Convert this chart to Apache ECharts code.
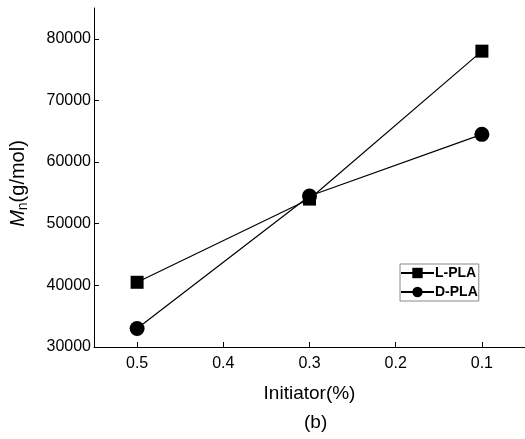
<!DOCTYPE html>
<html><head><meta charset="utf-8">
<script src="https://cdn.jsdelivr.net/npm/echarts@6/dist/echarts.min.js"></script>
<style>html,body{margin:0;padding:0;background:#fff}#c{width:525px;height:439px}</style>
</head><body><div id="c"></div>
<script>
var initiator = [0.5, 0.3, 0.1];
var lPLA = [40500, 54000, 78000];
var dPLA = [33000, 54500, 64500];
var seriesNames = ['L-PLA', 'D-PLA'];
var xTitle = 'Initiator(%)';
var caption = '(b)';

var chart = echarts.init(document.getElementById('c'), null, {renderer: 'canvas'});
var font = 'Liberation Sans, Arial, sans-serif';
function pairs(ys){ return initiator.map(function(x,i){ return [x, ys[i]]; }); }
chart.setOption({
  animation: false,
  backgroundColor: '#fff',
  grid: {left: 94, right: 0, top: 8, bottom: 92, containLabel: false, outerBoundsMode: 'none'},
  legend: {
    left: 400, top: 264, orient: 'vertical', itemGap: 5, itemWidth: 33, itemHeight: 13,
    padding: [2, 1, 2, 0], borderColor: '#888', borderWidth: 1,
    textStyle: {fontFamily: font, fontSize: 14, fontWeight: 'bold', color: '#000', padding: [0,0,0,-4]},
    data: seriesNames
  },
  xAxis: {
    type: 'value', inverse: true, min: 0.05, max: 0.55, splitNumber: 5,
    name: xTitle, nameLocation: 'middle', nameGap: 37,
    nameTextStyle: {fontFamily: font, fontSize: 19, color: '#000'},
    axisLine: {lineStyle: {color: '#000', width: 1}},
    axisTick: {inside: true, length: 5, lineStyle: {color: '#000'}},
    axisLabel: {fontFamily: font, fontSize: 16, color: '#000', margin: 9, showMinLabel: false, showMaxLabel: false,
      formatter: function(v){ return v.toFixed(1); }},
    splitLine: {show: false}
  },
  yAxis: {
    type: 'value', min: 30000, max: 85000, interval: 10000,
    name: '{i|M}{s|n}{r|(g/mol)}', nameLocation: 'middle', nameGap: 64, nameRotate: 90,
    nameTextStyle: {fontFamily: font, fontSize: 20, color: '#000', padding: [0, 0, 0, -12],
      rich: {
        i: {fontFamily: font, fontSize: 20, fontStyle: 'italic', color: '#000'},
        s: {fontFamily: font, fontSize: 14, color: '#000', padding: [9, 0, 0, 0]},
        r: {fontFamily: font, fontSize: 20, color: '#000'}
      }},
    axisLine: {lineStyle: {color: '#000', width: 1}},
    axisTick: {inside: true, length: 5, lineStyle: {color: '#000'}},
    axisLabel: {fontFamily: font, fontSize: 16, color: '#000', margin: 3, showMaxLabel: false,
      formatter: function(v){ return String(v); }},
    splitLine: {show: false}
  },
  graphic: [{
    type: 'text', left: 304, top: 413,
    style: {text: caption, font: '19px ' + font, fill: '#000'}
  }],
  series: [
    {name: seriesNames[0], type: 'line', data: pairs(lPLA), symbol: 'rect', symbolSize: 13,
      lineStyle: {color: '#000', width: 1.2}, itemStyle: {color: '#000'}},
    {name: seriesNames[1], type: 'line', data: pairs(dPLA), symbol: 'circle', symbolSize: 15,
      lineStyle: {color: '#000', width: 1.2}, itemStyle: {color: '#000'}}
  ]
});
</script></body></html>
